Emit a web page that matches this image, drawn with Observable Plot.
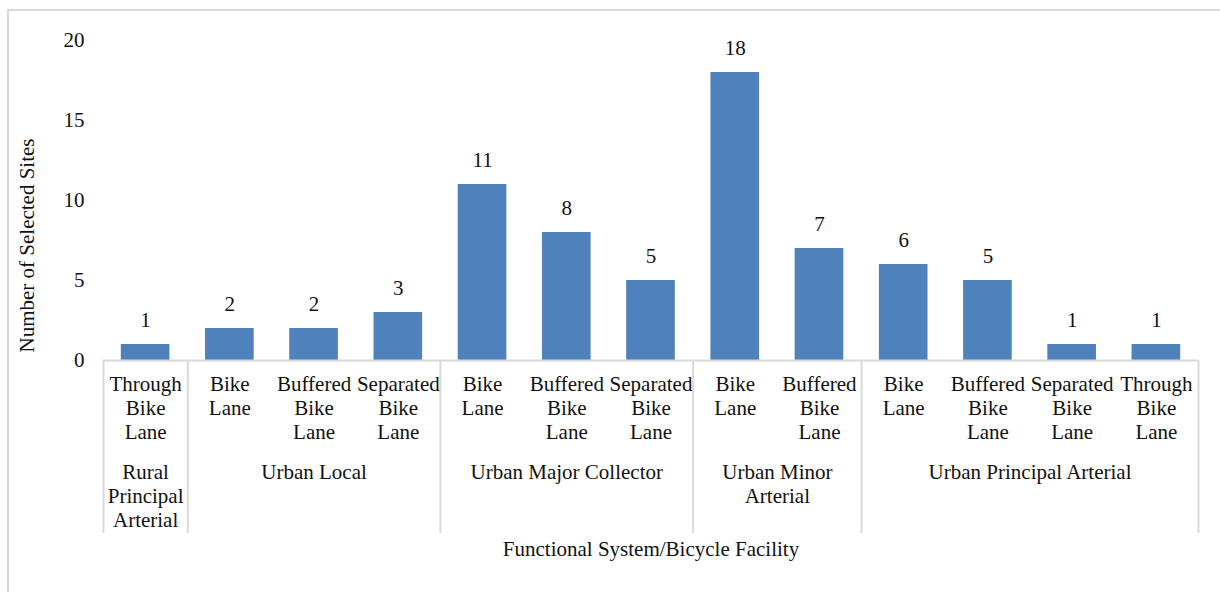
<!DOCTYPE html>
<html><head><meta charset="utf-8">
<script src="https://cdn.jsdelivr.net/npm/d3@7"></script>
<script src="https://cdn.jsdelivr.net/npm/@observablehq/plot@0.6"></script>
<style>
body{margin:0;background:#fff;}
#wrap{position:relative;width:1220px;height:592px;overflow:hidden;background:#fff;}
#border{position:absolute;left:7px;top:9px;width:1400px;height:800px;border-left:2px solid #D9D9D9;border-top:2px solid #D9D9D9;z-index:2;pointer-events:none;}
#chart{position:absolute;left:0;top:0;z-index:1;}
</style></head><body>
<div id="wrap"><div id="border"></div><div id="chart"></div></div>
<script>
// Data
const systems = [
  "Rural Principal Arterial",
  "Urban Local", "Urban Local", "Urban Local",
  "Urban Major Collector", "Urban Major Collector", "Urban Major Collector",
  "Urban Minor Arterial", "Urban Minor Arterial",
  "Urban Principal Arterial", "Urban Principal Arterial", "Urban Principal Arterial", "Urban Principal Arterial"
];
const facilities = [
  "Through Bike Lane",
  "Bike Lane", "Buffered Bike Lane", "Separated Bike Lane",
  "Bike Lane", "Buffered Bike Lane", "Separated Bike Lane",
  "Bike Lane", "Buffered Bike Lane",
  "Bike Lane", "Buffered Bike Lane", "Separated Bike Lane", "Through Bike Lane"
];
const counts = [1, 2, 2, 3, 11, 8, 5, 18, 7, 6, 5, 1, 1];
const groupNames = ["Rural Principal Arterial", "Urban Local", "Urban Major Collector", "Urban Minor Arterial", "Urban Principal Arterial"];
const groupLabels = ["Rural\nPrincipal\nArterial", "Urban Local", "Urban Major Collector", "Urban Minor\nArterial", "Urban Principal Arterial"];
const yTicks = [0, 5, 10, 15, 20];
const yTitle = "Number of Selected Sites";
const xTitle = "Functional System/Bicycle Facility";

// Build tables
const bars = counts.map((v, i) => ({i, system: systems[i], facility: facilities[i], label: facilities[i].replace(/ /g, "\n"), value: v}));
const groups = groupNames.map((g, k) => {
  const idx = bars.filter(b => b.system === g).map(b => b.i);
  return {name: g, label: groupLabels[k], center: d3.mean(idx), start: d3.min(idx) - 0.5, end: d3.max(idx) + 0.5};
});
const bounds = Array.from(new Set(groups.flatMap(g => [g.start, g.end])));

const font = "'Liberation Serif', 'Times New Roman', serif";
const ink = "#111";
const grid = "#D9D9D9";

const chart = Plot.plot({
  width: 1220,
  height: 592,
  marginLeft: 103,
  marginRight: 22,
  marginTop: 40,
  marginBottom: 232,
  style: {fontFamily: font, fontSize: "21px", color: ink, background: "transparent"},
  x: {domain: [-0.5, counts.length - 0.5], axis: null},
  y: {domain: [0, 20], axis: null},
  marks: [
    Plot.rectY(bars, {x1: d => d.i - 0.5, x2: d => d.i + 0.5, y1: 0, y2: "value", fill: "#4F81BD", insetLeft: 17.8, insetRight: 17.8}),
    Plot.ruleY([0], {stroke: grid, strokeWidth: 2}),
    Plot.ruleX(bounds, {x: d => d, y1: 0, y2: 0, stroke: grid, strokeWidth: 2, insetBottom: -173}),
    Plot.axisY({ticks: yTicks, tickSize: 0, tickPadding: 19, label: null, fontSize: 21, fill: ink}),
    Plot.text(bars, {x: "i", y: "value", text: d => String(d.value), dy: -24, fontSize: 21, fill: ink}),
    Plot.text(bars, {x: "i", y: 0, text: "label", lineAnchor: "top", dy: 13, lineHeight: 1.15, fontSize: 21, fill: ink}),
    Plot.text(groups, {x: "center", y: 0, text: "label", lineAnchor: "top", dy: 101, lineHeight: 1.15, fontSize: 21, fill: ink}),
    Plot.text([xTitle], {frameAnchor: "bottom", text: d => d, dy: 195, fontSize: 21, fill: ink}),
    Plot.text([yTitle], {frameAnchor: "left", text: d => d, textAnchor: "middle", rotate: -90, dx: -76, dy: 45, fontSize: 21, fill: ink})
  ]
});
document.getElementById("chart").appendChild(chart);
</script>
</body></html>
